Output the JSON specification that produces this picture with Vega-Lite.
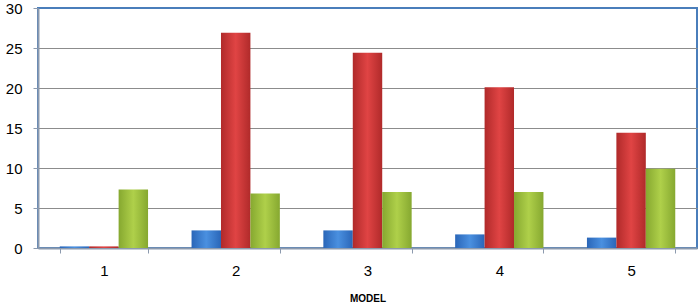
{
  "$schema": "https://vega.github.io/schema/vega-lite/v6.json",
  "width": 659,
  "height": 240,
  "autosize": "none",
  "padding": {"left": 38, "top": 8, "right": 2, "bottom": 60},
  "background": "white",
  "config": {
    "view": {"stroke": "#4A7EBB", "strokeWidth": 2},
    "font": "Liberation Sans"
  },
  "data": {
    "values": [
      {"model": "1", "series": "A", "value": 0.2},
      {"model": "1", "series": "B", "value": 0.2},
      {"model": "1", "series": "C", "value": 7.3},
      {"model": "2", "series": "A", "value": 2.2},
      {"model": "2", "series": "B", "value": 26.9},
      {"model": "2", "series": "C", "value": 6.8},
      {"model": "3", "series": "A", "value": 2.2},
      {"model": "3", "series": "B", "value": 24.4},
      {"model": "3", "series": "C", "value": 7.0},
      {"model": "4", "series": "A", "value": 1.7},
      {"model": "4", "series": "B", "value": 20.1},
      {"model": "4", "series": "C", "value": 7.0},
      {"model": "5", "series": "A", "value": 1.3},
      {"model": "5", "series": "B", "value": 14.4},
      {"model": "5", "series": "C", "value": 9.9}
    ]
  },
  "encoding": {
    "x": {
      "field": "model", "type": "nominal", "title": "MODEL",
      "scale": {"paddingInner": 0.33, "paddingOuter": 0.165},
      "axis": {
        "labelAngle": 0, "labelFontSize": 15, "labelColor": "#000", "labelPadding": 10,
        "tickBand": "extent", "tickSize": 5, "tickColor": "#8C9AAE", "domainColor": "#8C9AAE", "domainWidth": 2,
        "titleFontSize": 10, "titleFontWeight": "bold", "titleColor": "#000", "titlePadding": 15, "grid": false
      }
    },
    "xOffset": {"field": "series", "type": "nominal", "scale": {"domain": ["A", "B", "C"], "paddingInner": 0, "paddingOuter": 0}},
    "y": {
      "field": "value", "type": "quantitative", "title": null,
      "scale": {"domain": [0, 30], "nice": false},
      "axis": {
        "values": [0, 5, 10, 15, 20, 25, 30], "labelFontSize": 15, "labelColor": "#000", "labelPadding": 11,
        "tickSize": 5, "tickColor": "#8C9AAE", "domainColor": "#8C9AAE", "domainWidth": 2,
        "gridColor": {"condition": {"test": "datum.value === 30", "value": "transparent"}, "value": "#8C8C8C"},
        "gridWidth": 1
      }
    }
  },
  "layer": [
    {
      "transform": [{"filter": "datum.series === 'A'"}],
      "mark": {"type": "bar", "color": {"gradient": "linear", "x1": 0, "y1": 0, "x2": 1, "y2": 0, "stops": [{"offset": 0, "color": "#2A66B8"}, {"offset": 0.5, "color": "#4A90E0"}, {"offset": 1, "color": "#2A66B8"}]}}
    },
    {
      "transform": [{"filter": "datum.series === 'B'"}],
      "mark": {"type": "bar", "color": {"gradient": "linear", "x1": 0, "y1": 0, "x2": 1, "y2": 0, "stops": [{"offset": 0, "color": "#B02A2A"}, {"offset": 0.5, "color": "#E04444"}, {"offset": 1, "color": "#B02A2A"}]}}
    },
    {
      "transform": [{"filter": "datum.series === 'C'"}],
      "mark": {"type": "bar", "color": {"gradient": "linear", "x1": 0, "y1": 0, "x2": 1, "y2": 0, "stops": [{"offset": 0, "color": "#86A830"}, {"offset": 0.5, "color": "#AFD04A"}, {"offset": 1, "color": "#86A830"}]}}
    }
  ]
}
